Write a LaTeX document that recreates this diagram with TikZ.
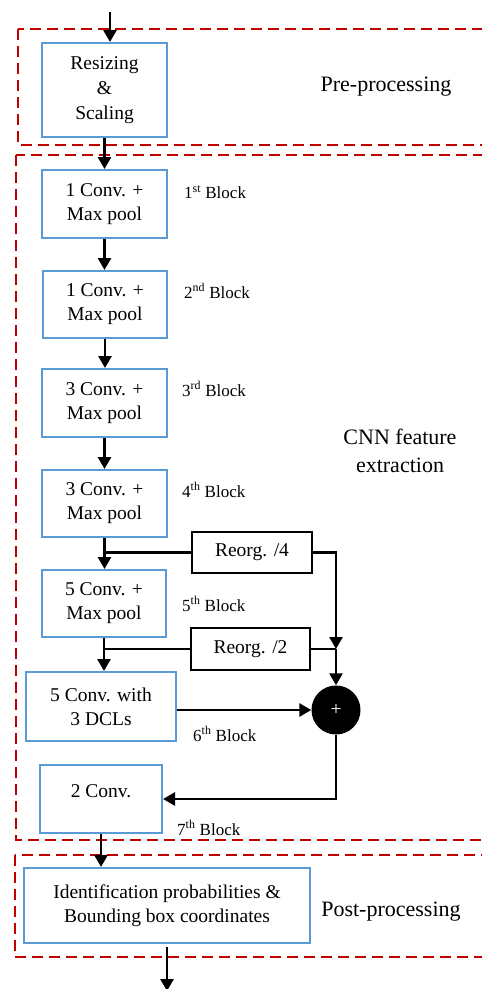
\documentclass[tikz,border=0pt]{standalone}
\usepackage{fontspec}
\setmainfont{Liberation Serif}
\usetikzlibrary{arrows.meta}

\definecolor{stageRed}{HTML}{C00000}
\definecolor{boxBlue}{HTML}{5B9BD5}

\tikzset{
  stage/.style={draw=stageRed, line width=2.3pt, dash pattern=on 11pt off 6pt},
  layerbox/.style={draw=boxBlue, line width=2pt, fill=white, inner sep=0pt,
    align=center, font=\fontsize{19.5}{24}\selectfont},
  reorgbox/.style={draw=black, line width=1.8pt, fill=white, inner sep=0pt,
    align=center, font=\fontsize{19.5}{24}\selectfont,
    minimum width=119pt, minimum height=41pt},
  blocklabel/.style={anchor=west, inner sep=0pt, font=\fontsize{17}{20}\selectfont},
  stagelabel/.style={align=center, inner sep=0pt, font=\fontsize{22}{28}\selectfont},
  flow/.style={line width=2.8pt, -{Triangle[length=12pt,width=13pt]}},
  plain/.style={line width=2.8pt}
}

\begin{document}
\begin{tikzpicture}[x=1pt, y=-1pt]
  \useasboundingbox (0,0) rectangle (482,989);
  \clip (0,0) rectangle (482,989);

  % stage frames (open to the right)
  \draw[stage] (18,29) rectangle (500,145);
  \draw[stage] (16,155) rectangle (500,840);
  \draw[stage] (15,855) rectangle (500,957);

  % stage names
  \node[stagelabel] (pretxt) at (386,87) {Pre-processing};
  \node[stagelabel] (cnntxt) at (400,451) {CNN feature\\extraction};
  \node[stagelabel] (posttxt) at (391,912) {Post-processing};

  % layer boxes
  \node[layerbox, minimum width=125pt, minimum height=94pt] (resize) at (104.5,90)
    {Resizing\\[1pt]\&\\[1pt]Scaling};
  \node[layerbox, minimum width=125pt, minimum height=68pt] (b1) at (104.5,204)
    {1 Conv. +\\Max pool};
  \node[layerbox, minimum width=124pt, minimum height=67pt] (b2) at (105,304.5)
    {1 Conv. +\\Max pool};
  \node[layerbox, minimum width=125pt, minimum height=68pt] (b3) at (104.5,403)
    {3 Conv. +\\Max pool};
  \node[layerbox, minimum width=125pt, minimum height=67pt] (b4) at (104.5,503.5)
    {3 Conv. +\\Max pool};
  \node[layerbox, minimum width=124pt, minimum height=67pt] (b5) at (104,603.5)
    {5 Conv. +\\Max pool};
  \node[layerbox, minimum width=150pt, minimum height=69pt] (b6) at (101,706.5)
    {5 Conv. with\\3 DCLs};
  \node[layerbox, minimum width=122pt, minimum height=68pt] (b7) at (101,799) {};
  \node[font=\fontsize{19.5}{24}\selectfont, inner sep=0pt] (b7txt) at (101,791) {2 Conv.};
  \node[layerbox, minimum width=286pt, minimum height=75pt] (post) at (167,905.5)
    {Identification probabilities \&\\Bounding box coordinates};

  % reorganisation boxes and the sum
  \node[reorgbox, minimum width=120pt] (reorg4) at (252,552.5) {Reorg. /4};
  \node[reorgbox, minimum height=42pt] (reorg2) at (250.5,649) {Reorg. /2};
  \node[circle, fill=black, minimum size=49pt, inner sep=0pt, text=white,
        font=\fontsize{19.5}{24}\selectfont] (plus) at (336,710) {+};

  % block labels
  \node[blocklabel] (l1) at (184,192) {1\textsuperscript{st} Block};
  \node[blocklabel] (l2) at (184,291) {2\textsuperscript{nd} Block};
  \node[blocklabel] (l3) at (182,389) {3\textsuperscript{rd} Block};
  \node[blocklabel] (l4) at (182,490) {4\textsuperscript{th} Block};
  \node[blocklabel] (l5) at (182,604) {5\textsuperscript{th} Block};
  \node[blocklabel] (l6) at (193,734) {6\textsuperscript{th} Block};
  \node[blocklabel] (l7) at (177,828) {7\textsuperscript{th} Block};

  % free ends and junction
  \coordinate (in) at (110,12);
  \coordinate (out0) at (167,947);
  \coordinate (out) at (167,991);
  \coordinate (join) at (336,649);

  % main flow
  \draw[flow] (in) -- (in |- resize.north);
  \draw[flow] (resize.south) -- (resize.south |- b1.north);
  \draw[flow] (b1.south) -- (b1.south |- b2.north);
  \draw[flow] (b2.south) -- (b2.south |- b3.north);
  \draw[flow] (b3.south) -- (b3.south |- b4.north);
  \draw[flow] (b4.south) -- (b4.south |- b5.north);
  \draw[flow] (b5.south) -- (b5.south |- b6.north);
  \draw[flow] (b6.east |- plus) -- (plus.west);
  \draw[flow] (plus.south) |- (b7.east);
  \draw[flow] (b7.south) -- (b7.south |- post.north);
  \draw[flow] (out0) -- (out);

  % passthrough branches
  \draw[plain] (b4.south |- reorg4.west) -- (reorg4.west);
  \draw[plain] (b5.south |- reorg2.west) -- (reorg2.west);
  \draw[flow] (reorg4.east) -| (join);
  \draw[plain] (reorg2.east) -- (join);
  \draw[flow] (join) -- (plus.north);
\end{tikzpicture}
\end{document}
